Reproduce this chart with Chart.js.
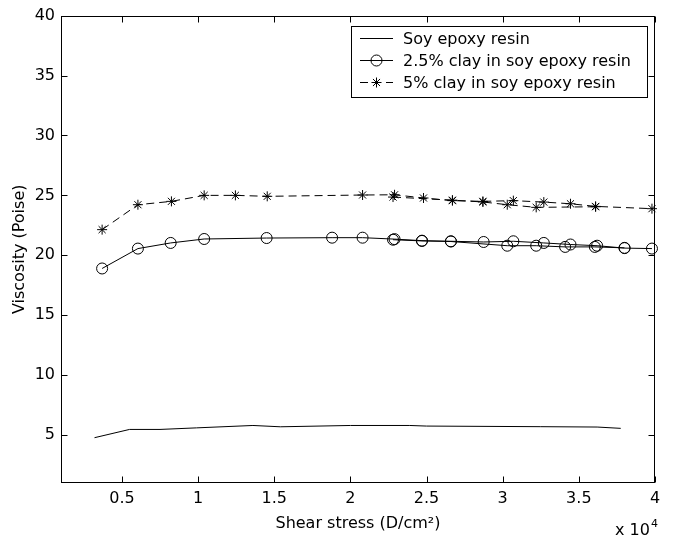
<!DOCTYPE html>
<html>
<head>
<meta charset="utf-8">
<script src="https://cdn.jsdelivr.net/npm/chart.js@4/dist/chart.umd.min.js"></script>
<style>
  html, body { margin: 0; padding: 0; background: #ffffff; }
  canvas { display: block; }
</style>
</head>
<body>
<canvas id="c" width="673" height="542"></canvas>
<script>
// ---- Data (shear stress in units of 10^4 D/cm^2, viscosity in Poise) ----
const seriesNames = ["Soy epoxy resin", "2.5% clay in soy epoxy resin", "5% clay in soy epoxy resin"];

const soyX = [0.32, 0.55, 0.75, 0.99, 1.36, 1.54, 2.0, 2.39, 2.5, 3.25, 3.62, 3.775];
const soyY = [4.78, 5.47, 5.47, 5.6, 5.8, 5.69, 5.8, 5.8, 5.75, 5.7, 5.67, 5.56];

const clay25UpX = [0.37, 0.605, 0.82, 1.04, 1.45, 1.88, 2.08, 2.29, 2.47, 2.66, 2.875, 3.07, 3.27, 3.445, 3.62, 3.80, 3.98];
const clay25UpY = [18.9, 20.56, 21.03, 21.36, 21.44, 21.47, 21.47, 21.35, 21.22, 21.17, 21.11, 21.17, 21.03, 20.9, 20.8, 20.6, 20.56];
const clay25DownX = [3.80, 3.605, 3.41, 3.22, 3.03, 2.66, 2.47, 2.28];
const clay25DownY = [20.62, 20.7, 20.7, 20.8, 20.8, 21.15, 21.2, 21.3];

const clay5UpX = [0.37, 0.605, 0.825, 1.04, 1.245, 1.454, 2.08, 2.29, 2.48, 2.67, 2.87, 3.07, 3.27, 3.445, 3.61, 3.98];
const clay5UpY = [22.14, 24.22, 24.5, 25.0, 25.0, 24.92, 25.03, 25.05, 24.78, 24.56, 24.5, 24.56, 24.44, 24.3, 24.08, 23.89];
const clay5DownX = [3.61, 3.22, 3.03, 2.87, 2.67, 2.28];
const clay5DownY = [24.05, 24.0, 24.22, 24.45, 24.6, 24.86];

const xTicks = [0.5, 1, 1.5, 2, 2.5, 3, 3.5, 4];
const yTicks = [5, 10, 15, 20, 25, 30, 35, 40];
const xMin = 0.1, xMax = 4, yMin = 1, yMax = 40;

const xTitle = "Shear stress (D/cm\u00B2)";
const yTitle = "Viscosity (Poise)";
const xExponent = ["x 10", "4"];

// ---- Build chart ----
const FONT = "'DejaVu Sans', sans-serif";
const pts = (xs, ys) => xs.map((x, i) => ({ x: x, y: ys[i] }));

const soyStyle = { borderColor: '#000', borderWidth: 1, pointRadius: 0, pointStyle: false, borderDash: [] };
const c25Style = { borderColor: '#000', borderWidth: 1, pointRadius: 5.5, pointStyle: 'circle', pointBorderColor: '#000', pointBackgroundColor: 'rgba(0,0,0,0)', pointBorderWidth: 1, borderDash: [] };
const c5Style = { borderColor: '#000', borderWidth: 1, pointRadius: 5, pointStyle: 'star', pointBorderColor: '#000', pointBackgroundColor: '#000', pointBorderWidth: 1, borderDash: [8, 5] };

const datasets = [
  Object.assign({ label: seriesNames[0], data: pts(soyX, soyY), legend: true }, soyStyle),
  Object.assign({ label: seriesNames[1], data: pts(clay25UpX, clay25UpY), legend: true }, c25Style),
  Object.assign({ label: seriesNames[1] + " (return)", data: pts(clay25DownX, clay25DownY), legend: false }, c25Style),
  Object.assign({ label: seriesNames[2], data: pts(clay5UpX, clay5UpY), legend: true }, c5Style),
  Object.assign({ label: seriesNames[2] + " (return)", data: pts(clay5DownX, clay5DownY), legend: false }, c5Style)
].map(d => Object.assign(d, { showLine: true, fill: false, tension: 0, clip: false, pointHoverRadius: d.pointRadius }));

const frameAndTicks = {
  id: 'frameAndTicks',
  afterDraw(chart) {
    const ctx = chart.ctx;
    const a = chart.chartArea;
    const xs = chart.scales.x, ys = chart.scales.y;
    const L = Math.round(a.left) + 0.5, R = Math.round(a.right) - 0.5;
    const T = Math.round(a.top) + 0.5, B = Math.round(a.bottom) - 0.5;
    ctx.save();
    ctx.strokeStyle = '#000';
    ctx.lineWidth = 1;
    ctx.setLineDash([]);
    ctx.strokeRect(L, T, R - L, B - T);
    const tl = 6;
    ctx.beginPath();
    xTicks.forEach(v => {
      const px = Math.round(xs.getPixelForValue(v)) + 0.5;
      ctx.moveTo(px, B); ctx.lineTo(px, B - tl);
      ctx.moveTo(px, T); ctx.lineTo(px, T + tl);
    });
    yTicks.forEach(v => {
      const py = Math.round(ys.getPixelForValue(v)) + 0.5;
      ctx.moveTo(L, py); ctx.lineTo(L + tl, py);
      ctx.moveTo(R, py); ctx.lineTo(R - tl, py);
    });
    ctx.stroke();

    // exponent label
    ctx.fillStyle = '#000';
    ctx.textBaseline = 'alphabetic';
    ctx.textAlign = 'left';
    ctx.font = "16px " + FONT;
    const ex = 615, ey = 535;
    ctx.fillText(xExponent[0], ex, ey);
    const w = ctx.measureText(xExponent[0]).width;
    ctx.font = "11px " + FONT;
    ctx.fillText(xExponent[1], ex + w + 1, ey - 8);

    // legend
    const lx = 351.5, ly = 26.5, lw = 296, lh = 71;
    ctx.fillStyle = '#fff';
    ctx.fillRect(lx, ly, lw, lh);
    ctx.strokeRect(lx, ly, lw, lh);
    const rows = [38.5, 60.5, 82.5];
    const legendSets = chart.data.datasets.filter(d => d.legend);
    legendSets.forEach((d, i) => {
      const y = rows[i];
      ctx.save();
      ctx.strokeStyle = '#000';
      ctx.lineWidth = 1;
      ctx.setLineDash(d.borderDash || []);
      ctx.beginPath();
      ctx.moveTo(360, y); ctx.lineTo(393, y);
      ctx.stroke();
      ctx.restore();
      if (d.pointRadius > 0 && d.pointStyle) {
        ctx.save();
        ctx.strokeStyle = '#000';
        ctx.fillStyle = d.pointBackgroundColor;
        ctx.lineWidth = 1;
        Chart.helpers.drawPoint(ctx, { pointStyle: d.pointStyle, radius: d.pointRadius, borderWidth: 1, rotation: 0 }, 376.5, y);
        ctx.restore();
      }
      ctx.fillStyle = '#000';
      ctx.font = "16px " + FONT;
      ctx.textBaseline = 'middle';
      ctx.textAlign = 'left';
      ctx.fillText(d.label, 403, y + 1);
    });
    ctx.restore();
  }
};

new Chart(document.getElementById('c'), {
  type: 'scatter',
  data: { datasets: datasets },
  options: {
    responsive: false,
    animation: false,
    events: [],
    layout: { padding: { left: 0, right: 18, top: 14, bottom: 0 } },
    plugins: { legend: { display: false }, tooltip: { enabled: false } },
    scales: {
      x: {
        type: 'linear', min: xMin, max: xMax,
        afterBuildTicks: s => { s.ticks = xTicks.map(v => ({ value: v })); },
        afterFit: s => { s.height = 59; },
        grid: { display: false, drawTicks: false },
        border: { display: false },
        ticks: { color: '#000', padding: 6, font: { family: FONT, size: 16 }, maxRotation: 0, autoSkip: false,
                 callback: v => String(v) },
        title: { display: true, text: xTitle, color: '#000', font: { family: FONT, size: 16 }, padding: { top: 0, bottom: 9 } }
      },
      y: {
        type: 'linear', min: yMin, max: yMax,
        afterBuildTicks: s => { s.ticks = yTicks.map(v => ({ value: v })); },
        afterFit: s => { s.width = 61; },
        grid: { display: false, drawTicks: false },
        border: { display: false },
        ticks: { color: '#000', padding: 6, font: { family: FONT, size: 16 }, autoSkip: false,
                 callback: v => String(v) },
        title: { display: true, text: yTitle, color: '#000', font: { family: FONT, size: 16 }, padding: { top: 10, bottom: 0 } }
      }
    }
  },
  plugins: [frameAndTicks]
});
</script>
</body>
</html>
